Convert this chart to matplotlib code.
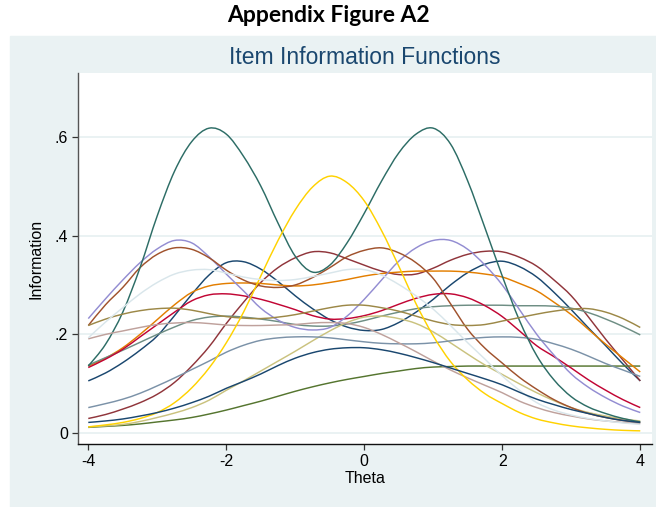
# Item information curves, Stata s2color look
import matplotlib.pyplot as plt
from matplotlib.path import Path
from matplotlib.patches import PathPatch

theta = [-4, -3.75, -3.5, -3.25, -3, -2.75, -2.5, -2.25, -2, -1.75, -1.5, -1.25, -1, -0.75, -0.5, -0.25,
         0, 0.25, 0.5, 0.75, 1, 1.25, 1.5, 1.75, 2, 2.25, 2.5, 2.75, 3, 3.25, 3.5, 3.75, 4]

navy_a = [0.106, 0.122, 0.143, 0.168, 0.197, 0.238, 0.281, 0.32, 0.345, 0.347, 0.332, 0.307, 0.278, 0.252, 0.23, 0.215,
          0.208, 0.21, 0.224, 0.245, 0.271, 0.3, 0.325, 0.342, 0.348, 0.337, 0.316, 0.285, 0.25, 0.213, 0.177, 0.14, 0.106]
maroon = [0.03, 0.038, 0.049, 0.062, 0.079, 0.103, 0.136, 0.175, 0.222, 0.265, 0.305, 0.335, 0.355, 0.367, 0.365, 0.353,
          0.34, 0.328, 0.321, 0.322, 0.334, 0.35, 0.362, 0.368, 0.367, 0.356, 0.338, 0.31, 0.278, 0.235, 0.19, 0.148, 0.106]
forest = [0.012, 0.014, 0.016, 0.019, 0.023, 0.027, 0.032, 0.039, 0.047, 0.056, 0.065, 0.075, 0.085, 0.094, 0.102, 0.109,
          0.115, 0.121, 0.126, 0.131, 0.134, 0.135, 0.136, 0.136, 0.136, 0.136, 0.136, 0.136, 0.136, 0.136, 0.136, 0.136, 0.136]
orange = [0.136, 0.152, 0.173, 0.2, 0.23, 0.26, 0.285, 0.298, 0.303, 0.304, 0.303, 0.3, 0.298, 0.3, 0.305, 0.311,
          0.318, 0.323, 0.326, 0.328, 0.328, 0.328, 0.326, 0.322, 0.316, 0.303, 0.288, 0.265, 0.24, 0.21, 0.18, 0.152, 0.124]
teal = [0.138, 0.153, 0.168, 0.184, 0.2, 0.215, 0.228, 0.235, 0.237, 0.235, 0.231, 0.226, 0.22, 0.217, 0.217, 0.221,
        0.228, 0.237, 0.245, 0.252, 0.256, 0.258, 0.259, 0.259, 0.259, 0.258, 0.258, 0.257, 0.253, 0.244, 0.231, 0.216, 0.199]
cranberry = [0.133, 0.15, 0.17, 0.195, 0.22, 0.245, 0.268, 0.28, 0.282, 0.278, 0.271, 0.261, 0.25, 0.238, 0.231, 0.232,
             0.238, 0.248, 0.261, 0.273, 0.281, 0.282, 0.274, 0.258, 0.236, 0.207, 0.177, 0.155, 0.132, 0.108, 0.087, 0.068, 0.052]
lavender = [0.232, 0.272, 0.31, 0.345, 0.373, 0.39, 0.385, 0.357, 0.322, 0.288, 0.253, 0.229, 0.214, 0.209, 0.214, 0.237,
            0.271, 0.31, 0.348, 0.375, 0.39, 0.39, 0.372, 0.34, 0.3, 0.25, 0.2, 0.158, 0.12, 0.093, 0.072, 0.055, 0.042]
khaki = [0.013, 0.015, 0.018, 0.024, 0.032, 0.041, 0.052, 0.067, 0.087, 0.106, 0.126, 0.146, 0.166, 0.187, 0.207, 0.224,
         0.235, 0.237, 0.232, 0.222, 0.205, 0.183, 0.16, 0.138, 0.119, 0.1, 0.082, 0.066, 0.052, 0.042, 0.035, 0.029, 0.025]
sienna = [0.218, 0.26, 0.295, 0.335, 0.362, 0.375, 0.372, 0.355, 0.33, 0.31, 0.298, 0.295, 0.3, 0.315, 0.335, 0.357,
          0.37, 0.375, 0.365, 0.345, 0.313, 0.262, 0.21, 0.172, 0.142, 0.113, 0.089, 0.068, 0.052, 0.04, 0.032, 0.026, 0.022]
emidblue = [0.052, 0.06, 0.069, 0.081, 0.096, 0.112, 0.129, 0.146, 0.164, 0.178, 0.188, 0.193, 0.195, 0.195, 0.193, 0.189,
            0.185, 0.182, 0.181, 0.181, 0.183, 0.187, 0.191, 0.194, 0.195, 0.194, 0.19, 0.181, 0.17, 0.156, 0.141, 0.128, 0.115]
emerald = [0.136, 0.18, 0.245, 0.335, 0.44, 0.53, 0.59, 0.617, 0.605, 0.56, 0.5, 0.425, 0.358, 0.326, 0.34, 0.385,
           0.445, 0.51, 0.567, 0.605, 0.617, 0.585, 0.51, 0.415, 0.318, 0.228, 0.157, 0.108, 0.074, 0.053, 0.04, 0.03, 0.023]
brown = [0.218, 0.231, 0.241, 0.248, 0.252, 0.253, 0.249, 0.242, 0.236, 0.233, 0.232, 0.235, 0.24, 0.247, 0.254, 0.259,
         0.259, 0.254, 0.247, 0.237, 0.227, 0.22, 0.218, 0.22, 0.227, 0.234, 0.241, 0.247, 0.251, 0.252, 0.245, 0.232, 0.214]
erose = [0.191, 0.2, 0.207, 0.214, 0.22, 0.223, 0.224, 0.222, 0.219, 0.218, 0.218, 0.219, 0.22, 0.223, 0.224, 0.222,
         0.214, 0.2, 0.183, 0.165, 0.146, 0.128, 0.112, 0.097, 0.082, 0.065, 0.052, 0.042, 0.035, 0.029, 0.025, 0.022, 0.02]
gold = [0.013, 0.017, 0.022, 0.03, 0.042, 0.062, 0.092, 0.132, 0.183, 0.245, 0.318, 0.39, 0.452, 0.498, 0.52, 0.507,
        0.47, 0.41, 0.338, 0.262, 0.197, 0.145, 0.108, 0.08, 0.06, 0.042, 0.029, 0.021, 0.015, 0.011, 0.008, 0.006, 0.005]
bluishgray = [0.193, 0.225, 0.254, 0.282, 0.305, 0.322, 0.33, 0.331, 0.324, 0.316, 0.311, 0.309, 0.311, 0.317, 0.324, 0.331,
              0.331, 0.32, 0.301, 0.278, 0.251, 0.218, 0.183, 0.15, 0.116, 0.087, 0.062, 0.047, 0.037, 0.03, 0.025, 0.021, 0.018]
navy_b = [0.022, 0.025, 0.029, 0.035, 0.042, 0.051, 0.062, 0.075, 0.091, 0.105, 0.12, 0.137, 0.152, 0.163, 0.17, 0.173,
          0.173, 0.169, 0.162, 0.153, 0.143, 0.132, 0.121, 0.11, 0.098, 0.083, 0.069, 0.058, 0.048, 0.04, 0.032, 0.026, 0.022]

y_ticks = [0, 0.2, 0.4, 0.6]
y_labels = ["0", ".2", ".4", ".6"]
x_ticks = [-4, -2, 0, 2, 4]
x_labels = ["-4", "-2", "0", "2", "4"]

# s2color pstyle order
series = [
    (navy_a, "#1A476F"), (maroon, "#90353B"), (forest, "#55752F"), (orange, "#E37E00"),
    (teal, "#6E8E84"), (cranberry, "#C10534"), (lavender, "#938DD2"), (khaki, "#CAC27E"),
    (sienna, "#A0522D"), (emidblue, "#7B92A8"), (emerald, "#2D6D66"), (brown, "#9C8847"),
    (erose, "#BFA19C"), (gold, "#FFD200"), (bluishgray, "#D9E6EB"), (navy_b, "#1A476F"),
]


def smooth_path(xs, ys) -> Path:
    # Catmull-Rom through the read points, drawn as cubic Bezier segments
    n = len(xs)
    verts = [(xs[0], ys[0])]
    codes = [Path.MOVETO]
    for i in range(n - 1):
        i0, i2, i3 = max(i - 1, 0), i + 1, min(i + 2, n - 1)
        c1 = (xs[i] + (xs[i2] - xs[i0]) / 6, ys[i] + (ys[i2] - ys[i0]) / 6)
        c2 = (xs[i2] - (xs[i3] - xs[i]) / 6, ys[i2] - (ys[i3] - ys[i]) / 6)
        verts += [c1, c2, (xs[i2], ys[i2])]
        codes += [Path.CURVE4] * 3
    return Path(verts, codes)


plt.rcParams["font.family"] = ["Liberation Sans", "DejaVu Sans"]
bg = "#EAF2F3"

fig = plt.figure(figsize=(6.56, 5.07), dpi=100)
W, H = 656, 507

# graph region (light bluish gray panel), kept behind the axes
fig.patches.append(plt.Rectangle((10 / W, 0), (W - 10) / W, (H - 36) / H,
                                 transform=fig.transFigure, color=bg, zorder=-5))

ax = fig.add_axes([78 / W, (H - 444) / H, (652 - 78) / W, (444 - 73) / H])
ax.set_zorder(2)
ax.set_facecolor("white")
ax.set_xlim(-4.149, 4.17)
ax.set_ylim(-0.0216, 0.7286)

for y in y_ticks:
    ax.axhline(y, color=bg, lw=1.4, zorder=1)

for vals, col in series:
    ax.add_patch(PathPatch(smooth_path(theta, vals), fill=False, edgecolor=col, lw=1.05, zorder=2))

for side in ["top", "right"]:
    ax.spines[side].set_visible(False)
ax.spines["left"].set_color("#555555")
ax.spines["bottom"].set_color("#111111")
ax.spines["left"].set_linewidth(1.0)
ax.spines["bottom"].set_linewidth(1.0)

ax.set_yticks(y_ticks)
ax.set_yticklabels(y_labels)
ax.set_xticks(x_ticks)
ax.set_xticklabels(x_labels)
ax.tick_params(axis="both", length=4.3, width=0.9, labelsize=11.5, color="#333333", pad=3)

ax.set_xlabel("Theta", fontsize=11.5, labelpad=1)
ax.set_ylabel("Information", fontsize=11.5, labelpad=8)

fig.text(365 / W, 1 - 57 / H, "Item Information Functions", ha="center", va="center",
         fontsize=16.5, color="#1A476F", zorder=3)
fig.text(328 / W, 1 - 15 / H, "Appendix Figure A2", ha="center", va="center",
         fontsize=16.5, fontweight="bold", family=["Lato", "DejaVu Sans"], zorder=3)

fig.savefig("out.png", dpi=100)
